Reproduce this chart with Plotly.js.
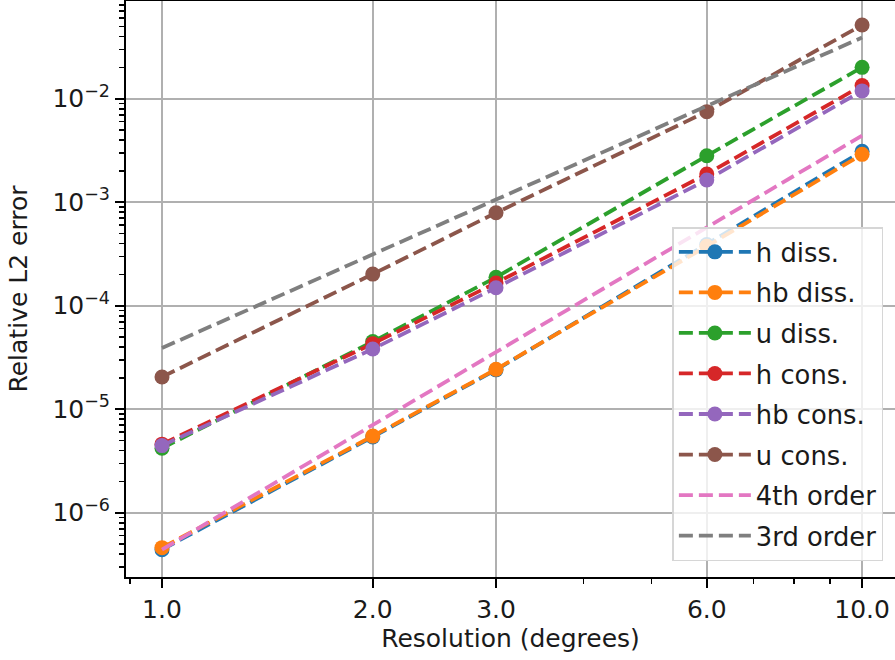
<!DOCTYPE html>
<html>
<head>
<meta charset="utf-8">
<script src="https://cdn.plot.ly/plotly-3.0.1.min.js"></script>
<style>html,body{margin:0;padding:0;background:#fff;}#chart{width:895px;height:660px;}</style>
</head>
<body>
<div id="chart"></div>
<script>
// ---- data ----
const resolution = [1, 2, 3, 6, 10];
const hDiss   = [4.4e-7, 5.4e-6, 2.4e-5, 3.9e-4, 3.1e-3];
const hbDiss  = [4.6e-7, 5.5e-6, 2.43e-5, 3.75e-4, 2.9e-3];
const uDiss   = [4.2e-6, 4.5e-5, 1.88e-4, 2.81e-3, 2.01e-2];
const hCons   = [4.6e-6, 4.3e-5, 1.66e-4, 1.87e-3, 1.34e-2];
const hbCons  = [4.45e-6, 3.82e-5, 1.49e-4, 1.64e-3, 1.19e-2];
const uCons   = [2.05e-5, 2.02e-4, 7.9e-4, 7.5e-3, 5.15e-2];
const order4  = [4.4e-7, 7.0e-6, 3.6e-5, 5.7e-4, 4.4e-3];
const order3  = [3.9e-5, 3.1e-4, 1.06e-3, 8.5e-3, 3.9e-2];

const seriesNames = ["h diss.", "hb diss.", "u diss.", "h cons.", "hb cons.", "u cons.", "4th order", "3rd order"];
const xTickVals = [1, 2, 3, 6, 10];
const xTickText = ["1.0", "2.0", "3.0", "6.0", "10.0"];
const yTickVals = [1e-6, 1e-5, 1e-4, 1e-3, 1e-2];
const yTickText = ["10<sup>−6</sup>", "10<sup>−5</sup>", "10<sup>−4</sup>", "10<sup>−3</sup>", "10<sup>−2</sup>"];
const xMinorVals = [0.9, 4, 5, 7, 8, 9];
const yMinorVals = [];
for (let e = -7; e <= -2; e++) for (let m = 2; m <= 9; m++) yMinorVals.push(m * Math.pow(10, e));

const colors = ["#1f77b4", "#ff7f0e", "#2ca02c", "#d62728", "#9467bd", "#8c564b", "#e377c2", "#7f7f7f"];
const values = [hDiss, hbDiss, uDiss, hCons, hbCons, uCons, order4, order3];

const FONT = "DejaVu Sans, sans-serif";
const dash = "14px,6px";

const traces = values.map((v, i) => ({
  x: resolution,
  y: v,
  name: seriesNames[i],
  legendgroup: "g" + i,
  type: "scatter",
  mode: i < 6 ? "lines+markers" : "lines",
  line: {color: colors[i], width: 3.8, dash: dash},
  marker: {color: colors[i], size: 15},
  hoverinfo: "x+y+name"
}));

const layout = {
  width: 895,
  height: 660,
  margin: {l: 126, r: 0, t: 1, b: 83, pad: 0},
  paper_bgcolor: "#ffffff",
  plot_bgcolor: "#ffffff",
  font: {family: FONT, size: 25, color: "#1a1a1a"},
  showlegend: true,
  legend: {
    x: 0.7105, y: 0.6075, xanchor: "left", yanchor: "top",
    bgcolor: "rgba(255,255,255,0.8)",
    bordercolor: "#d6d6d6", borderwidth: 1.5,
    font: {family: FONT, size: 25.8, color: "#1a1a1a"},
    traceorder: "grouped",
    tracegroupgap: 4,
    itemwidth: 72
  },
  xaxis: {
    type: "log",
    range: [-0.0514, 1.047],
    tickmode: "array", tickvals: xTickVals, ticktext: xTickText,
    ticks: "outside", ticklen: 9, tickwidth: 2, tickcolor: "#000",
    showline: true, linecolor: "#000", linewidth: 2, mirror: true,
    showgrid: true, gridcolor: "#b0b0b0", gridwidth: 2,
    zeroline: false,
    minor: {tickmode: "array", tickvals: xMinorVals, ticks: "outside", ticklen: 5, tickwidth: 1.6, tickcolor: "#000", showgrid: false},
    tickfont: {family: FONT, size: 25, color: "#1a1a1a"},
    title: {text: "Resolution (degrees)", font: {family: FONT, size: 25, color: "#1a1a1a"}, standoff: 4}
  },
  yaxis: {
    type: "log",
    range: [-6.621, -1.056],
    tickmode: "array", tickvals: yTickVals, ticktext: yTickText,
    ticks: "outside", ticklen: 9, tickwidth: 2, tickcolor: "#000",
    showline: true, linecolor: "#000", linewidth: 2, mirror: true,
    showgrid: true, gridcolor: "#b0b0b0", gridwidth: 2,
    zeroline: false,
    minor: {tickmode: "array", tickvals: yMinorVals, ticks: "outside", ticklen: 5, tickwidth: 1.6, tickcolor: "#000", showgrid: false},
    tickfont: {family: FONT, size: 25, color: "#1a1a1a"},
    title: {text: "Relative L2 error", font: {family: FONT, size: 25, color: "#1a1a1a"}, standoff: 18}
  }
};

Plotly.newPlot("chart", traces, layout, {displayModeBar: false, staticPlot: true});
</script>
</body>
</html>
